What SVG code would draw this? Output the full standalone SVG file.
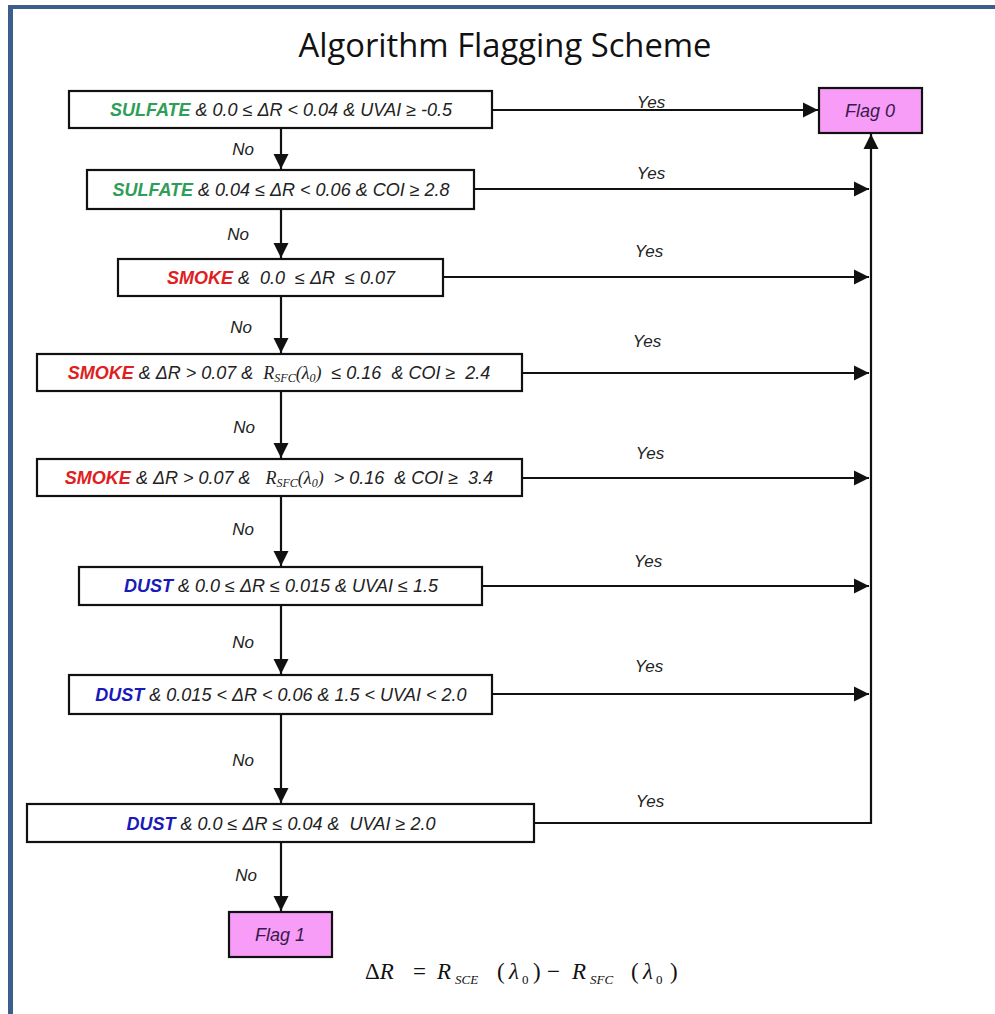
<svg xmlns="http://www.w3.org/2000/svg" width="995" height="1014" viewBox="0 0 995 1014">
<style>
text{white-space:pre}
.box{fill:#fff;stroke:#111;stroke-width:2.2}
.flag{fill:#f79cf7;stroke:#111;stroke-width:2.2}
.t{font-family:"Liberation Sans",Arial,sans-serif;font-style:italic;font-size:18px;fill:#222;text-anchor:middle}
.lbl{font-family:"Liberation Sans",Arial,sans-serif;font-style:italic;font-size:17px;fill:#222;text-anchor:middle}
.ft{font-family:"Liberation Sans",Arial,sans-serif;font-style:italic;font-size:18px;fill:#3a1a4a;text-anchor:middle}
.g{fill:#2e9e58;font-weight:bold}
.r{fill:#e02020;font-weight:bold}
.b{fill:#1a1ab8;font-weight:bold}
.s{font-family:"Liberation Serif","Times New Roman",serif;font-style:italic}
.c{stroke:#111;stroke-width:2.2;fill:none}
.fm{font-family:"Liberation Serif","Times New Roman",serif;font-size:23px;fill:#111}
</style>
<defs>
<marker id="ah" viewBox="0 0 10 10" refX="10" refY="5" markerWidth="7" markerHeight="7" orient="auto" markerUnits="strokeWidth">
<path d="M0,0 L10,5 L0,10 z" fill="#111"/>
</marker>
</defs>
<rect x="0" y="0" width="995" height="1014" fill="#fff"/>
<rect x="8" y="5" width="987" height="4" fill="#3b5e8c"/>
<rect x="8" y="5" width="5" height="1009" fill="#3b5e8c"/>
<text x="505" y="57" font-family="'Open Sans','Liberation Sans',sans-serif" font-size="32" fill="#111" text-anchor="middle" textLength="413" lengthAdjust="spacingAndGlyphs">Algorithm Flagging Scheme</text>

<g id="connectors">
<line class="c" x1="281" y1="129" x2="281" y2="169" marker-end="url(#ah)"/>
<line class="c" x1="281" y1="209" x2="281" y2="258" marker-end="url(#ah)"/>
<line class="c" x1="281" y1="297" x2="281" y2="353" marker-end="url(#ah)"/>
<line class="c" x1="281" y1="392" x2="281" y2="458" marker-end="url(#ah)"/>
<line class="c" x1="281" y1="497" x2="281" y2="566" marker-end="url(#ah)"/>
<line class="c" x1="281" y1="605" x2="281" y2="674" marker-end="url(#ah)"/>
<line class="c" x1="281" y1="714" x2="281" y2="803" marker-end="url(#ah)"/>
<line class="c" x1="281" y1="843" x2="281" y2="911" marker-end="url(#ah)"/>
<line class="c" x1="492" y1="110" x2="818" y2="110" marker-end="url(#ah)"/>
<line class="c" x1="474" y1="189" x2="869" y2="189" marker-end="url(#ah)"/>
<line class="c" x1="443" y1="277" x2="869" y2="277" marker-end="url(#ah)"/>
<line class="c" x1="522" y1="373" x2="869" y2="373" marker-end="url(#ah)"/>
<line class="c" x1="522" y1="478" x2="869" y2="478" marker-end="url(#ah)"/>
<line class="c" x1="482" y1="586" x2="869" y2="586" marker-end="url(#ah)"/>
<line class="c" x1="492" y1="694" x2="869" y2="694" marker-end="url(#ah)"/>
<polyline class="c" points="534,823 871,823 871,134" marker-end="url(#ah)"/>
<text class="lbl" x="651" y="108">Yes</text>
<text class="lbl" x="651" y="179">Yes</text>
<text class="lbl" x="649" y="257">Yes</text>
<text class="lbl" x="647" y="347">Yes</text>
<text class="lbl" x="650" y="459">Yes</text>
<text class="lbl" x="648" y="567">Yes</text>
<text class="lbl" x="649" y="672">Yes</text>
<text class="lbl" x="650" y="807">Yes</text>
<text class="lbl" x="243" y="155">No</text>
<text class="lbl" x="238" y="240">No</text>
<text class="lbl" x="241" y="333">No</text>
<text class="lbl" x="244" y="433">No</text>
<text class="lbl" x="243" y="535">No</text>
<text class="lbl" x="243" y="648">No</text>
<text class="lbl" x="243" y="766">No</text>
<text class="lbl" x="246" y="881">No</text>
</g>

<g id="n1">
<rect class="box" x="69" y="91" width="423" height="37"/>
<text class="t" x="281" y="116"><tspan class="g">SULFATE</tspan> &amp; 0.0 ≤ ΔR &lt; 0.04 &amp; UVAI ≥ -0.5</text>
</g>
<g id="n2">
<rect class="box" x="87" y="170" width="387" height="39"/>
<text class="t" x="281" y="196"><tspan class="g">SULFATE</tspan> &amp; 0.04 ≤ ΔR &lt; 0.06 &amp; COI ≥ 2.8</text>
</g>
<g id="n3">
<rect class="box" x="118" y="259" width="325" height="37"/>
<text class="t" x="281" y="284"><tspan class="r">SMOKE</tspan> &amp;  0.0  ≤ ΔR  ≤ 0.07</text>
</g>
<g id="n4">
<rect class="box" x="37" y="354" width="485" height="37"/>
<text class="t" x="279" y="379"><tspan class="r">SMOKE</tspan> &amp; ΔR &gt; 0.07 &amp;  <tspan class="s">R<tspan font-size="12" dy="3">SFC</tspan><tspan dy="-3">(λ</tspan><tspan font-size="12" dy="3">0</tspan><tspan dy="-3">)</tspan></tspan>  ≤ 0.16  &amp; COI ≥  2.4</text>
</g>
<g id="n5">
<rect class="box" x="37" y="459" width="485" height="37"/>
<text class="t" x="279" y="484"><tspan class="r">SMOKE</tspan> &amp; ΔR &gt; 0.07 &amp;   <tspan class="s">R<tspan font-size="12" dy="3">SFC</tspan><tspan dy="-3">(λ</tspan><tspan font-size="12" dy="3">0</tspan><tspan dy="-3">)</tspan></tspan>  &gt; 0.16  &amp; COI ≥  3.4</text>
</g>
<g id="n6">
<rect class="box" x="79" y="567" width="403" height="38"/>
<text class="t" x="281" y="592"><tspan class="b">DUST</tspan> &amp; 0.0 ≤ ΔR ≤ 0.015 &amp; UVAI ≤ 1.5</text>
</g>
<g id="n7">
<rect class="box" x="69" y="675" width="423" height="39"/>
<text class="t" x="281" y="701"><tspan class="b">DUST</tspan> &amp; 0.015 &lt; ΔR &lt; 0.06 &amp; 1.5 &lt; UVAI &lt; 2.0</text>
</g>
<g id="n8">
<rect class="box" x="27" y="804" width="507" height="38"/>
<text class="t" x="281" y="830"><tspan class="b">DUST</tspan> &amp; 0.0 ≤ ΔR ≤ 0.04 &amp;  UVAI ≥ 2.0</text>
</g>
<g id="flag0">
<rect class="flag" x="819" y="88" width="103" height="45"/>
<text class="ft" x="870" y="117">Flag 0</text>
</g>
<g id="flag1">
<rect class="flag" x="229" y="912" width="103" height="45"/>
<text class="ft" x="280" y="941">Flag 1</text>
</g>
<g id="formula">
<text class="fm" y="979"><tspan x="365">Δ</tspan><tspan font-style="italic">R</tspan><tspan x="413">=</tspan><tspan x="437" font-style="italic">R</tspan><tspan x="455" font-style="italic" font-size="13" dy="5">SCE</tspan><tspan x="497" dy="-5">(</tspan><tspan x="509" font-style="italic">λ</tspan><tspan x="522" font-size="13" dy="5">0</tspan><tspan x="533" dy="-5">)</tspan><tspan x="547">−</tspan><tspan x="572" font-style="italic">R</tspan><tspan x="590" font-style="italic" font-size="13" dy="5">SFC</tspan><tspan x="631" dy="-5">(</tspan><tspan x="643" font-style="italic">λ</tspan><tspan x="656" font-size="13" dy="5">0</tspan><tspan x="670" dy="-5">)</tspan></text>
</g>
</svg>
